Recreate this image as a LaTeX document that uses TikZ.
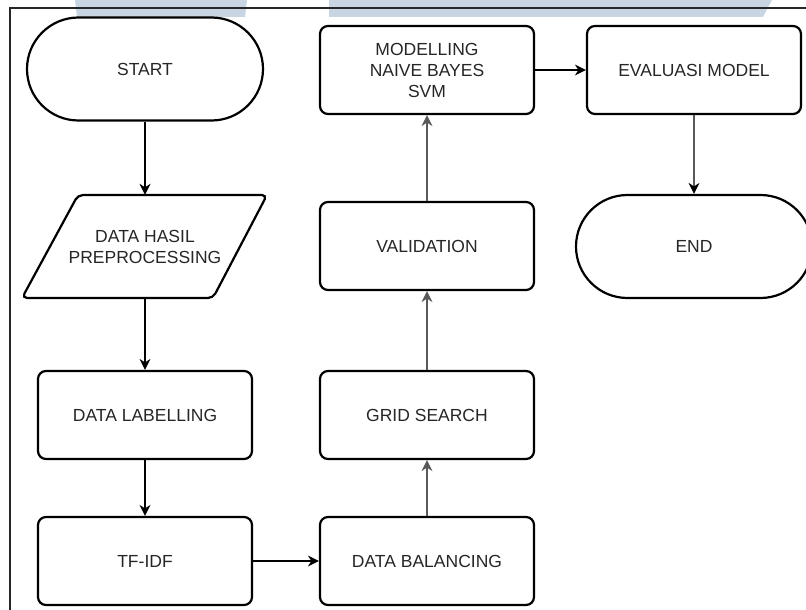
\documentclass[tikz,border=0pt]{standalone}
\usepackage{fontspec}
\setmainfont{Liberation Sans}
\usetikzlibrary{shapes.misc,arrows.meta}
\definecolor{wm}{HTML}{C8D5E3}
\definecolor{txt}{HTML}{262626}
\begin{document}
\begin{tikzpicture}[x=1pt,y=-1pt,
  lbl/.style={align=center,text=txt,font=\fontsize{17.5}{21}\selectfont},
  box/.style={lbl,draw=black,line width=2.2pt,rounded corners=8pt,minimum width=214pt,minimum height=88pt,inner sep=0pt},
  term/.style={lbl,draw=black,line width=2.2pt,rounded rectangle,minimum width=236pt,minimum height=103pt,inner sep=0pt},
  ghost/.style={lbl,minimum width=190pt,minimum height=103pt,inner sep=0pt},
  arr/.style={-{Stealth[length=11pt,width=11pt,inset=3.5pt]},line width=1.3pt,draw=black},
  garr/.style={arr,draw=black!65}]
\useasboundingbox (0,0) rectangle (806,610);
% watermark
\fill[wm] (75,0) -- (247,0) -- (245,17) -- (77,17) -- cycle;
\fill[wm] (329,0) -- (772,0) -- (763,17) -- (329,17) -- cycle;
% frame
\draw[line width=1.2pt,draw=black!85] (10,612) -- (10,8) -- (810,8);
% nodes
\node[term] (start) at (145,69) {START};
\node[ghost] (hasil) at (145,246.5) {DATA HASIL\\PREPROCESSING};
\draw[line width=2.2pt,rounded corners=5pt] (78,195) -- (267,195) -- (213,298) -- (22,298) -- cycle;
\node[box] (label) at (145,415) {DATA LABELLING};
\node[box] (tfidf) at (145,561) {TF-IDF};
\node[box] (bal) at (427,561) {DATA BALANCING};
\node[box] (grid) at (427,415) {GRID SEARCH};
\node[box] (valid) at (427,246) {VALIDATION};
\node[box] (model) at (427,70) {MODELLING\\NAIVE BAYES\\SVM};
\node[box] (eval) at (694,70) {EVALUASI MODEL};
\node[term] (end) at (694,246.5) {END};
% connectors
\draw[arr] (start.south) -- (hasil.north);
\draw[arr] (hasil.south) -- (label.north);
\draw[arr] (label) -- (tfidf);
\draw[arr] (tfidf) -- (bal);
\draw[garr] (bal) -- (grid);
\draw[garr] (grid) -- (valid);
\draw[garr] (valid) -- (model);
\draw[arr] (model) -- (eval);
\draw[arr] (eval) -- (end);
\end{tikzpicture}
\end{document}
